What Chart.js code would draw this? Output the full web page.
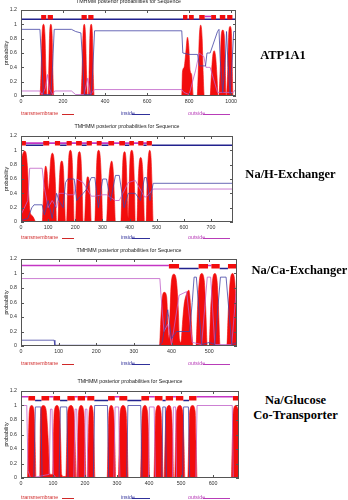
<!DOCTYPE html>
<html>
<head>
<meta charset="utf-8">
<script src="https://cdn.jsdelivr.net/npm/chart.js@4.4.1/dist/chart.umd.min.js"></script>
<style>
  html, body { margin: 0; padding: 0; background: #fff; }
  #page { position: relative; width: 348px; height: 500px; overflow: hidden; }
  canvas { position: absolute; left: 0; }
  .lbl { position: absolute; font-family: "Liberation Serif", "Times New Roman", serif; font-weight: bold;
         font-size: 12.5px; line-height: 15px; color: #000; text-align: center; white-space: nowrap; }
</style>
</head>
<body>
<div id="page">
  <canvas id="c1" width="245" height="122" style="top:0px"></canvas>
  <canvas id="c2" width="245" height="122" style="top:124px"></canvas>
  <canvas id="c3" width="245" height="122" style="top:248px"></canvas>
  <canvas id="c4" width="245" height="126" style="top:374px"></canvas>

  <div class="lbl" style="left:243px; width:80px; top:48px;">ATP1A1</div>
  <div class="lbl" style="left:240px; width:101px; top:167px;">Na/H-Exchanger</div>
  <div class="lbl" style="left:249px; width:101px; top:263px;">Na/Ca-Exchanger</div>
  <div class="lbl" style="left:245px; width:101px; top:393px;">Na/Glucose<br>Co-Transporter</div>
</div>

<script>
// ---- ATP1A1 (1023 aa) ----
const atpTM = [
  [0,0],[90,0],[95,0.3],[100,0.85],[107,1.0],[114,0.85],[119,0.3],[124,0],
  [128,0],[132,0.3],[136,0.85],[142,1.0],[148,0.85],[152,0.3],[156,0],
  [285,0],[290,0.3],[295,0.85],[301,1.0],[307,0.85],[312,0.3],[316,0],
  [320,0],[324,0.3],[328,0.85],[334,1.0],[340,0.85],[344,0.3],[348,0],
  [765,0],[768,0.33],[776,0.4],[784,0.6],[792,0.82],[798,0.7],[805,0.35],[812,0.3],[820,0],
  [838,0],[843,0.3],[848,0.8],[855,0.99],[862,0.8],[867,0.3],[872,0],
  [900,0],[906,0.3],[912,0.55],[919,0.63],[926,0.55],[932,0.3],[938,0],
  [942,0],[948,0.4],[953,0.85],[960,0.92],[967,0.85],[972,0.4],[976,0],
  [978,0],[984,0.4],[989,0.9],[995,0.97],[1001,0.9],[1005,0.4],[1009,0],[1023,0]
];
const atpIn = [
  [0,0.93],[90,0.93],[100,0.4],[107,0.02],[142,0.02],[150,0.4],[158,0.93],[240,0.93],[260,0.9],
  [285,0.88],[295,0.4],[301,0.02],[334,0.02],[342,0.4],[350,0.91],[765,0.91],[770,0.6],[800,0.58],
  [840,0.58],[850,0.42],[878,0.42],[885,0.6],[900,0.6],[935,0.9],[942,0.93],[948,0.5],[960,0.05],
  [972,0.5],[978,0.9],[984,0.5],[995,0.03],[1005,0.5],[1012,0.9],[1023,0.9]
];
const atpOut = [
  [0,0.07],[90,0.07],[100,0.02],[115,0.1],[126,0.3],[135,0.1],[150,0.02],[160,0.07],[240,0.07],
  [260,0.02],[300,0.02],[318,0.25],[330,0.02],[350,0.09],[765,0.09],[775,0.05],[800,0.02],[830,0.35],
  [848,0.6],[870,0.55],[880,0.4],[900,0.4],[935,0.05],[976,0.05],[1010,0.05],[1023,0.1]
];
const atpBoxes = [[96,120],[127,152],[288,313],[320,345],[771,792],[799,822],[848,874],[905,928],[946,972],[981,1006]];
const atpTopIn = [[0,1023]];
const atpTopOut = [[874,905]];
const atpMax = 1023;
const atpXTicks = [0, 200, 400, 600, 800, 1000];

// ---- Na/H exchanger (~781 aa) ----
const nheTM = [
  [0,0.85],[5,0.93],[12,0.99],[18,0.97],[24,0.75],[29,0.35],[33,0.15],[38,0.1],[45,0.07],[50,0.03],[54,0],
  [78,0],[82,0.3],[86,0.65],[91,0.78],[96,0.7],[101,0.45],[104,0.55],[109,0.85],[115,0.96],[121,0.9],[127,0.5],[131,0],
  [136,0],[140,0.45],[144,0.75],[150,0.85],[156,0.75],[160,0.4],[164,0],
  [168,0],[172,0.5],[176,0.9],[182,1.0],[188,0.9],[192,0.5],[196,0],
  [201,0],[205,0.5],[209,0.88],[215,0.98],[221,0.88],[225,0.5],[229,0],
  [234,0],[238,0.35],[242,0.58],[246,0.63],[251,0.58],[255,0.35],[259,0],
  [272,0],[276,0.5],[280,0.9],[286,1.0],[292,0.9],[297,0.5],[301,0],
  [315,0],[320,0.4],[326,0.7],[334,0.85],[340,0.7],[344,0.35],[348,0],
  [368,0],[372,0.5],[376,0.9],[382,0.98],[388,0.8],[392,0.3],[395,0.05],[398,0.4],[402,0.9],[408,1.0],[414,0.9],[418,0.5],[421,0],
  [427,0],[431,0.5],[435,0.8],[441,0.9],[447,0.8],[451,0.5],[455,0],
  [461,0],[465,0.6],[469,0.9],[474,1.0],[479,0.9],[483,0.5],[487,0],[781,0]
];
const nheIn = [
  [0,0.02],[25,0.05],[32,0.12],[40,0.2],[48,0.24],[78,0.24],[86,0.1],[100,0.3],[115,0.05],[131,0.4],
  [140,0.3],[155,0.2],[164,0.55],[172,0.6],[196,0.6],[205,0.3],[229,0.4],[240,0.45],[259,0.62],[272,0.62],
  [285,0.2],[301,0.6],[315,0.6],[330,0.3],[348,0.65],[362,0.65],[380,0.2],[395,0.4],[421,0.4],[440,0.3],
  [455,0.62],[462,0.62],[475,0.3],[487,0.54],[781,0.54]
];
const nheOut = [
  [0,0.1],[25,0.3],[32,0.75],[78,0.75],[85,0.5],[100,0.2],[115,0.3],[131,0.2],[140,0.4],[164,0.4],
  [172,0.38],[196,0.38],[205,0.6],[229,0.55],[259,0.36],[272,0.36],[301,0.38],[315,0.38],[348,0.3],
  [362,0.3],[395,0.55],[421,0.58],[455,0.35],[462,0.35],[487,0.46],[781,0.46]
];
const nheBoxes = [[0,18],[82,104],[125,144],[168,187],[203,224],[242,261],[279,297],[322,343],[362,383],[399,416],[432,451],[463,482]];
const nheTopIn = [[18,82],[144,168],[224,242],[297,322],[383,399],[451,463],[482,781]];
const nheTopOut = [[0,482]];
const nheMax = 781;
const nheXTicks = [0, 100, 200, 300, 400, 500, 600, 700];

// ---- Na/Ca exchanger (~574 aa shown) ----
const ncxTM = [
  [0,0],[90,0],[100,0.01],[115,0],[368,0],[371,0.3],[375,0.65],[381,0.74],[387,0.68],[390,0.35],[392,0.1],
  [395,0.3],[399,0.85],[406,0.99],[413,0.9],[418,0.5],[421,0.1],[425,0.05],[429,0.3],[433,0.55],[440,0.72],
  [446,0.77],[450,0.6],[454,0.2],[457,0],[465,0],[469,0.5],[474,0.9],[480,1.0],[487,0.9],[491,0.5],[495,0],
  [500,0],[504,0.5],[509,0.9],[515,1.0],[521,0.9],[525,0.5],[529,0],[547,0],[551,0.5],[556,0.9],[562,1.0],
  [568,0.9],[572,0.5],[574,0.3]
];
const ncxIn = [
  [0,0.08],[88,0.08],[90,0.01],[368,0.01],[375,0.05],[390,0.5],[400,0.1],[413,0.2],[448,0.2],[455,0.6],
  [460,0.95],[466,0.95],[480,0.02],[501,0.05],[515,0.02],[530,0.95],[545,0.95],[560,0.02],[574,0.05]
];
const ncxOut = [
  [0,0.93],[369,0.93],[372,0.7],[380,0.2],[390,0.3],[400,0.02],[420,0.7],[440,0.75],[455,0.05],[480,0.02],
  [495,0.95],[504,0.95],[515,0.02],[560,0.02],[574,0.9]
];
const ncxBoxes = [[393,420],[472,497],[506,528],[550,574]];
const ncxTopIn = [[420,472],[528,550]];
const ncxTopOut = [[0,393],[497,506]];
const ncxMax = 574;
const ncxXTicks = [0, 100, 200, 300, 400, 500];

// ---- Na/glucose co-transporter (~681 aa) ----
const sgltTM = [
  [0,0],[20,0],[23,0.5],[26,0.92],[33,1.0],[40,0.95],[44,0.5],[47,0],
  [59,0],[60,0.6],[62,0.95],[70,1.0],[78,0.95],[84,0.6],[88,0.2],[90,0.06],[95,0.05],[99,0.06],
  [101,0.5],[104,0.92],[112,1.0],[120,0.92],[124,0.5],[127,0.05],[133,0.02],[140,0.02],
  [143,0.5],[146,0.92],[156,1.0],[165,0.92],[169,0.5],[172,0],
  [174,0],[177,0.5],[180,0.92],[188,1.0],[196,0.92],[200,0.5],[203,0],
  [207,0],[210,0.5],[213,0.92],[219,1.0],[225,0.92],[228,0.5],[231,0],
  [269,0],[272,0.5],[275,0.92],[282,1.0],[289,0.92],[293,0.5],[296,0],
  [304,0],[307,0.5],[310,0.92],[319,1.0],[328,0.92],[332,0.5],[335,0],
  [373,0],[376,0.5],[379,0.92],[387,1.0],[395,0.92],[399,0.5],[402,0],
  [415,0],[418,0.5],[421,0.92],[429,1.0],[437,0.92],[441,0.5],[444,0],
  [447,0],[450,0.5],[453,0.92],[463,1.0],[470,0.92],[474,0.5],[477,0],
  [480,0],[483,0.5],[486,0.92],[496,1.0],[505,0.92],[509,0.5],[512,0],
  [521,0],[524,0.5],[527,0.92],[536,1.0],[544,0.92],[547,0.5],[550,0],
  [657,0],[660,0.5],[663,0.92],[671,1.0],[678,0.95],[681,0.9]
];
const sgltIn = [
  [0,0],[40,0],[45,0.98],[62,0.98],[66,0],[119,0],[123,0.98],[143,0.98],[147,0],[226,0],[230,1.0],
  [270,1.0],[274,0],[330,0],[334,1.0],[374,1.0],[378,0],[440,0],[443,0.98],[451,0.98],[454,0],
  [505,0],[508,0.98],[523,0.98],[527,0],[681,0]
];
const sgltOut = [
  [0,1.0],[18,1.0],[22,0.1],[30,0],[88,0.05],[92,0.95],[97,0.95],[101,0.05],[110,0],[165,0],[169,0.95],
  [174,0.95],[178,0],[198,0],[201,0.95],[206,0.95],[209,0],[290,0],[294,0.98],[305,0.98],[309,0],
  [398,0],[401,0.98],[416,0.98],[420,0],[473,0],[476,0.98],[483,0.98],[486,0],[546,0],[550,1.0],
  [660,1.0],[663,0],[681,0]
];
const sgltBoxes = [[23,44],[64,88],[101,122],[145,168],[177,200],[207,229],[272,293],[307,332],[376,400],[418,442],[452,475],[484,507],[525,548],[662,681]];
const sgltTopIn = [[44,64],[122,145],[229,272],[332,376],[442,452],[507,525]];
const sgltTopOut = [[0,23],[88,101],[168,177],[200,207],[293,307],[400,418],[475,484],[548,662]];
const sgltMax = 681;
const sgltXTicks = [0, 100, 200, 300, 400, 500, 600];

const yTickValues = [0, 0.2, 0.4, 0.6, 0.8, 1, 1.2];

const RED = '#f20d0d';
const NAVY = '#22228e';
const MAG = '#c435c4';
const NAVY_THIN = '#4444a4';
const MAG_THIN = '#c060c8';
const FONT_FAMILY = '"Liberation Sans", Arial, sans-serif';
const SMALL = '5.3px ' + FONT_FAMILY;

// turn [start,end] pairs into a broken line at height y
function segs(pairs, y) {
  const pts = [];
  pairs.forEach(([a, b]) => { pts.push([a, y], [b, y], [b, null]); });
  return pts;
}

// gnuplot-like frame, inner ticks, title, y label and legend
const decor = {
  id: 'decor',
  afterDraw(chart, args, opts) {
    const { ctx, chartArea: a, scales } = chart;
    ctx.save();
    ctx.strokeStyle = '#555';
    ctx.lineWidth = 1;
    ctx.strokeRect(a.left + 0.5, a.top + 0.5, a.right - a.left - 1, a.bottom - a.top - 1);
    ctx.beginPath();
    scales.x.ticks.forEach(t => {
      const px = Math.round(scales.x.getPixelForValue(t.value)) + 0.5;
      ctx.moveTo(px, a.bottom); ctx.lineTo(px, a.bottom - 3);
      ctx.moveTo(px, a.top); ctx.lineTo(px, a.top + 3);
    });
    scales.y.ticks.forEach(t => {
      const py = Math.round(scales.y.getPixelForValue(t.value)) + 0.5;
      ctx.moveTo(a.left, py); ctx.lineTo(a.left + 3, py);
      ctx.moveTo(a.right, py); ctx.lineTo(a.right - 3, py);
    });
    ctx.stroke();

    ctx.font = SMALL;
    ctx.fillStyle = '#222';
    ctx.textAlign = 'center';
    ctx.textBaseline = 'middle';
    ctx.fillText('TMHMM posterior probabilities for Sequence', (a.left + a.right) / 2, a.top - opts.titleGap);

    // legend row: text then a short line sample
    const ly = a.bottom + opts.legendGap;
    const items = [
      { t: 'transmembrane', x: 21, c: '#d02828', l: [62, 74] },
      { t: 'inside', x: 121, c: '#30309a', l: [132, 150] },
      { t: 'outside', x: 188, c: '#b83cb8', l: [203, 230] }
    ];
    ctx.textAlign = 'left';
    items.forEach(it => {
      ctx.fillStyle = it.c;
      ctx.fillText(it.t, it.x, ly);
      ctx.strokeStyle = it.c;
      ctx.beginPath();
      ctx.moveTo(it.l[0], Math.round(ly) + 0.5);
      ctx.lineTo(it.l[1], Math.round(ly) + 0.5);
      ctx.stroke();
    });

    ctx.fillStyle = '#222';
    ctx.textAlign = 'center';
    ctx.translate(7, (a.top + a.bottom) / 2);
    ctx.rotate(-Math.PI / 2);
    ctx.fillText('probability', 0, 0);
    ctx.restore();
  }
};

function makeChart(id, d) {
  return new Chart(document.getElementById(id), {
    type: 'line',
    data: {
      datasets: [
        { data: segs(d.boxes, 1.1), borderColor: RED, borderWidth: 4.5, borderCapStyle: 'butt', order: 0 },
        { data: segs(d.topOut, d.outY), borderColor: MAG, borderWidth: 1.6, order: 1 },
        { data: segs(d.topIn, 1.07), borderColor: NAVY, borderWidth: 1.4, order: 1 },
        { data: d.inside, borderColor: NAVY_THIN, borderWidth: 0.8, order: 2 },
        { data: d.outside, borderColor: MAG_THIN, borderWidth: 0.8, order: 2 },
        { data: d.tm, borderColor: RED, backgroundColor: RED, borderWidth: 0.6, fill: 'origin',
          cubicInterpolationMode: 'monotone', order: 3 }
      ]
    },
    options: {
      responsive: false,
      animation: false,
      devicePixelRatio: 1,
      layout: { padding: { top: d.padTop, bottom: d.padBottom, left: 0, right: d.padRight } },
      elements: { point: { radius: 0 } },
      plugins: {
        legend: { display: false },
        tooltip: { enabled: false },
        decor: { titleGap: d.titleGap, legendGap: d.legendGap }
      },
      scales: {
        x: {
          type: 'linear',
          min: 0, max: d.max,
          grid: { display: false, drawTicks: false },
          border: { display: false },
          afterFit: s => { s.height = 14; },
          afterBuildTicks: s => { s.ticks = d.xTicks.map(v => ({ value: v })); },
          ticks: { autoSkip: false, maxRotation: 0, padding: 2, color: '#333',
                   font: { family: FONT_FAMILY, size: 5.3 }, callback: v => String(v) }
        },
        y: {
          min: 0, max: 1.2,
          grid: { display: false, drawTicks: false },
          border: { display: false },
          afterFit: s => { s.width = 21; },
          afterBuildTicks: s => { s.ticks = yTickValues.map(v => ({ value: v })); },
          ticks: { padding: 4, color: '#333', font: { family: FONT_FAMILY, size: 5.3 },
                   callback: v => String(v) }
        }
      }
    },
    plugins: [decor]
  });
}

makeChart('c1', { tm: atpTM, inside: atpIn, outside: atpOut, boxes: atpBoxes, topIn: atpTopIn, topOut: atpTopOut,
  outY: 1.11, max: atpMax, xTicks: atpXTicks, padTop: 10, padBottom: 12, padRight: 9, titleGap: 8.5, legendGap: 18 });
makeChart('c2', { tm: nheTM, inside: nheIn, outside: nheOut, boxes: nheBoxes, topIn: nheTopIn, topOut: nheTopOut,
  outY: 1.1, max: nheMax, xTicks: nheXTicks, padTop: 12, padBottom: 10, padRight: 12, titleGap: 9.5, legendGap: 16 });
makeChart('c3', { tm: ncxTM, inside: ncxIn, outside: ncxOut, boxes: ncxBoxes, topIn: ncxTopIn, topOut: ncxTopOut,
  outY: 1.11, max: ncxMax, xTicks: ncxXTicks, padTop: 11, padBottom: 10, padRight: 8, titleGap: 8, legendGap: 18 });
makeChart('c4', { tm: sgltTM, inside: sgltIn, outside: sgltOut, boxes: sgltBoxes, topIn: sgltTopIn, topOut: sgltTopOut,
  outY: 1.12, max: sgltMax, xTicks: sgltXTicks, padTop: 17, padBottom: 8, padRight: 6, titleGap: 9, legendGap: 20 });
</script>
</body>
</html>
